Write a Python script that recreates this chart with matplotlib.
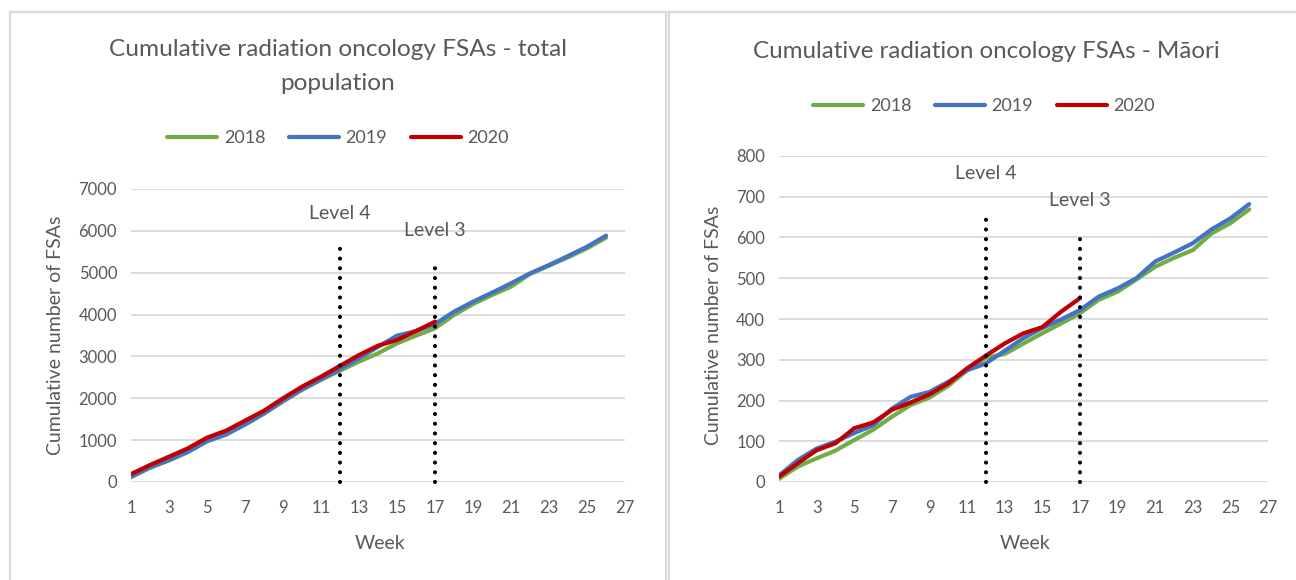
import matplotlib
matplotlib.use("Agg")
import matplotlib.pyplot as plt
from matplotlib.lines import Line2D

plt.rcParams['font.family'] = ['Lato', 'DejaVu Sans']

weeks = list(range(1, 27))
weeks_2020 = list(range(1, 18))

total_2018 = [115, 340, 515, 715, 970, 1130, 1370, 1630, 1925, 2200, 2440, 2660,
              2875, 3074, 3313, 3496, 3672, 3990, 4252, 4467, 4666, 4969, 5168,
              5367, 5582, 5836]
total_2019 = [127, 350, 525, 725, 980, 1139, 1378, 1641, 1935, 2214, 2453, 2700,
              2955, 3230, 3496, 3607, 3774, 4069, 4308, 4523, 4746, 4985, 5184,
              5399, 5621, 5885]
total_2020 = [190, 406, 605, 805, 1060, 1226, 1465, 1704, 2000, 2277, 2516, 2775,
              3034, 3257, 3393, 3607, 3830]

maori_2018 = [8, 38, 58, 77, 103, 128, 160, 189, 207, 236, 274, 305, 314, 340,
              365, 389, 414, 447, 467, 497, 528, 550, 569, 610, 635, 669]
maori_2019 = [16, 54, 82, 99, 120, 139, 180, 209, 221, 246, 274, 291, 322, 353,
              378, 399, 422, 455, 475, 500, 541, 563, 586, 620, 647, 682]
maori_2020 = [13, 46, 78, 95, 132, 146, 177, 195, 215, 242, 279, 310, 340, 365,
              380, 418, 451]

years = ['2018', '2019', '2020']
colors = ['#70AD47', '#4472C4', '#C00000']

level_weeks = [12, 17]
level_labels = ['Level 4', 'Level 3']
total_level_tops = [5760, 5300]
total_label_y = [6420, 6020]
maori_level_tops = [663, 614]
maori_label_y = [757, 692]

titles = ['Cumulative radiation oncology FSAs - total\npopulation',
          'Cumulative radiation oncology FSAs - Māori']
xticks = list(range(1, 28, 2))

TXT = '#595959'
GRID = '#D9D9D9'

fig = plt.figure(figsize=(12.96, 5.8), dpi=100)

W, H = 1296, 580
def fx(px): return px / W
def fy(py): return 1 - py / H

# panel borders
for (x0, x1) in [(10, 666), (669, 1300)]:
    for xs, ys in [([x0, x1], [12, 12]), ([x0, x0], [12, 600]), ([x1, x1], [12, 600])]:
        fig.add_artist(Line2D([fx(v) for v in xs], [fy(v) for v in ys], color=GRID,
                              lw=1.6, transform=fig.transFigure))

ax1 = fig.add_axes([fx(131), fy(482), fx(625) - fx(131), fy(189) - fy(482)])
ax2 = fig.add_axes([fx(779), fy(482), fx(1268) - fx(779), fy(156) - fy(482)])

configs = [
    (ax1, [total_2018, total_2019, total_2020], (0, 7000), 1000,
     total_level_tops, total_label_y, 338, 138),
    (ax2, [maori_2018, maori_2019, maori_2020], (0, 800), 100,
     maori_level_tops, maori_label_y, 984, 106),
]

for ax, series, ylim, ystep, tops, laby, pcx, ly in configs:
    ax.set_xlim(1, 27)
    ax.set_ylim(*ylim)
    ax.set_yticks(list(range(ylim[0], ylim[1] + 1, ystep)))
    ax.set_xticks(xticks)
    for s in ax.spines.values():
        s.set_visible(False)
    ax.grid(axis='y', color=GRID, lw=1.3)
    ax.set_axisbelow(True)
    ax.tick_params(length=0, labelsize=12, colors=TXT, pad=10)
    ax.tick_params(axis='x', pad=13)

    handles = []
    for data, yr, c in zip(series, years, colors):
        xs = weeks if len(data) == len(weeks) else weeks_2020
        h, = ax.plot(xs, data, color=c, lw=3.0, solid_capstyle='round',
                     solid_joinstyle='round', label=yr, zorder=3)
        handles.append(h)

    for wk, top, lab, lyv in zip(level_weeks, tops, level_labels, laby):
        ax.plot([wk, wk], [0, top], color='black', lw=3.0,
                linestyle=(0, (0.001, 2.33)), dash_capstyle='round', zorder=4,
                clip_on=False)
        ax.text(wk, lyv, lab, ha='center', va='center', fontsize=14, color=TXT)

    ax.set_xlabel('Week', fontsize=14, color=TXT)
    ax.set_ylabel('Cumulative number of FSAs', fontsize=14, color=TXT)

    fig.legend(handles=handles, loc='center', bbox_to_anchor=(fx(pcx), fy(ly)), ncol=3,
               frameon=False, fontsize=13, labelcolor=TXT, handlelength=2.8,
               handletextpad=0.35, columnspacing=1.3)

# titles (centred on panels)
fig.text(fx(338), fy(50), 'Cumulative radiation oncology FSAs - total',
         ha='center', va='center', fontsize=17.6, color=TXT)
fig.text(fx(338), fy(83), 'population', ha='center', va='center', fontsize=17.6, color=TXT)
fig.text(fx(986), fy(52), titles[1], ha='center', va='center', fontsize=17.4, color=TXT)

ax1.xaxis.set_label_coords(fx(380), fy(535), transform=fig.transFigure)
ax1.yaxis.set_label_coords(fx(64), fy(335), transform=fig.transFigure)
ax2.xaxis.set_label_coords(fx(1025), fy(535), transform=fig.transFigure)
ax2.yaxis.set_label_coords(fx(722), fy(325), transform=fig.transFigure)

fig.savefig('out.png', dpi=100, facecolor='white')
